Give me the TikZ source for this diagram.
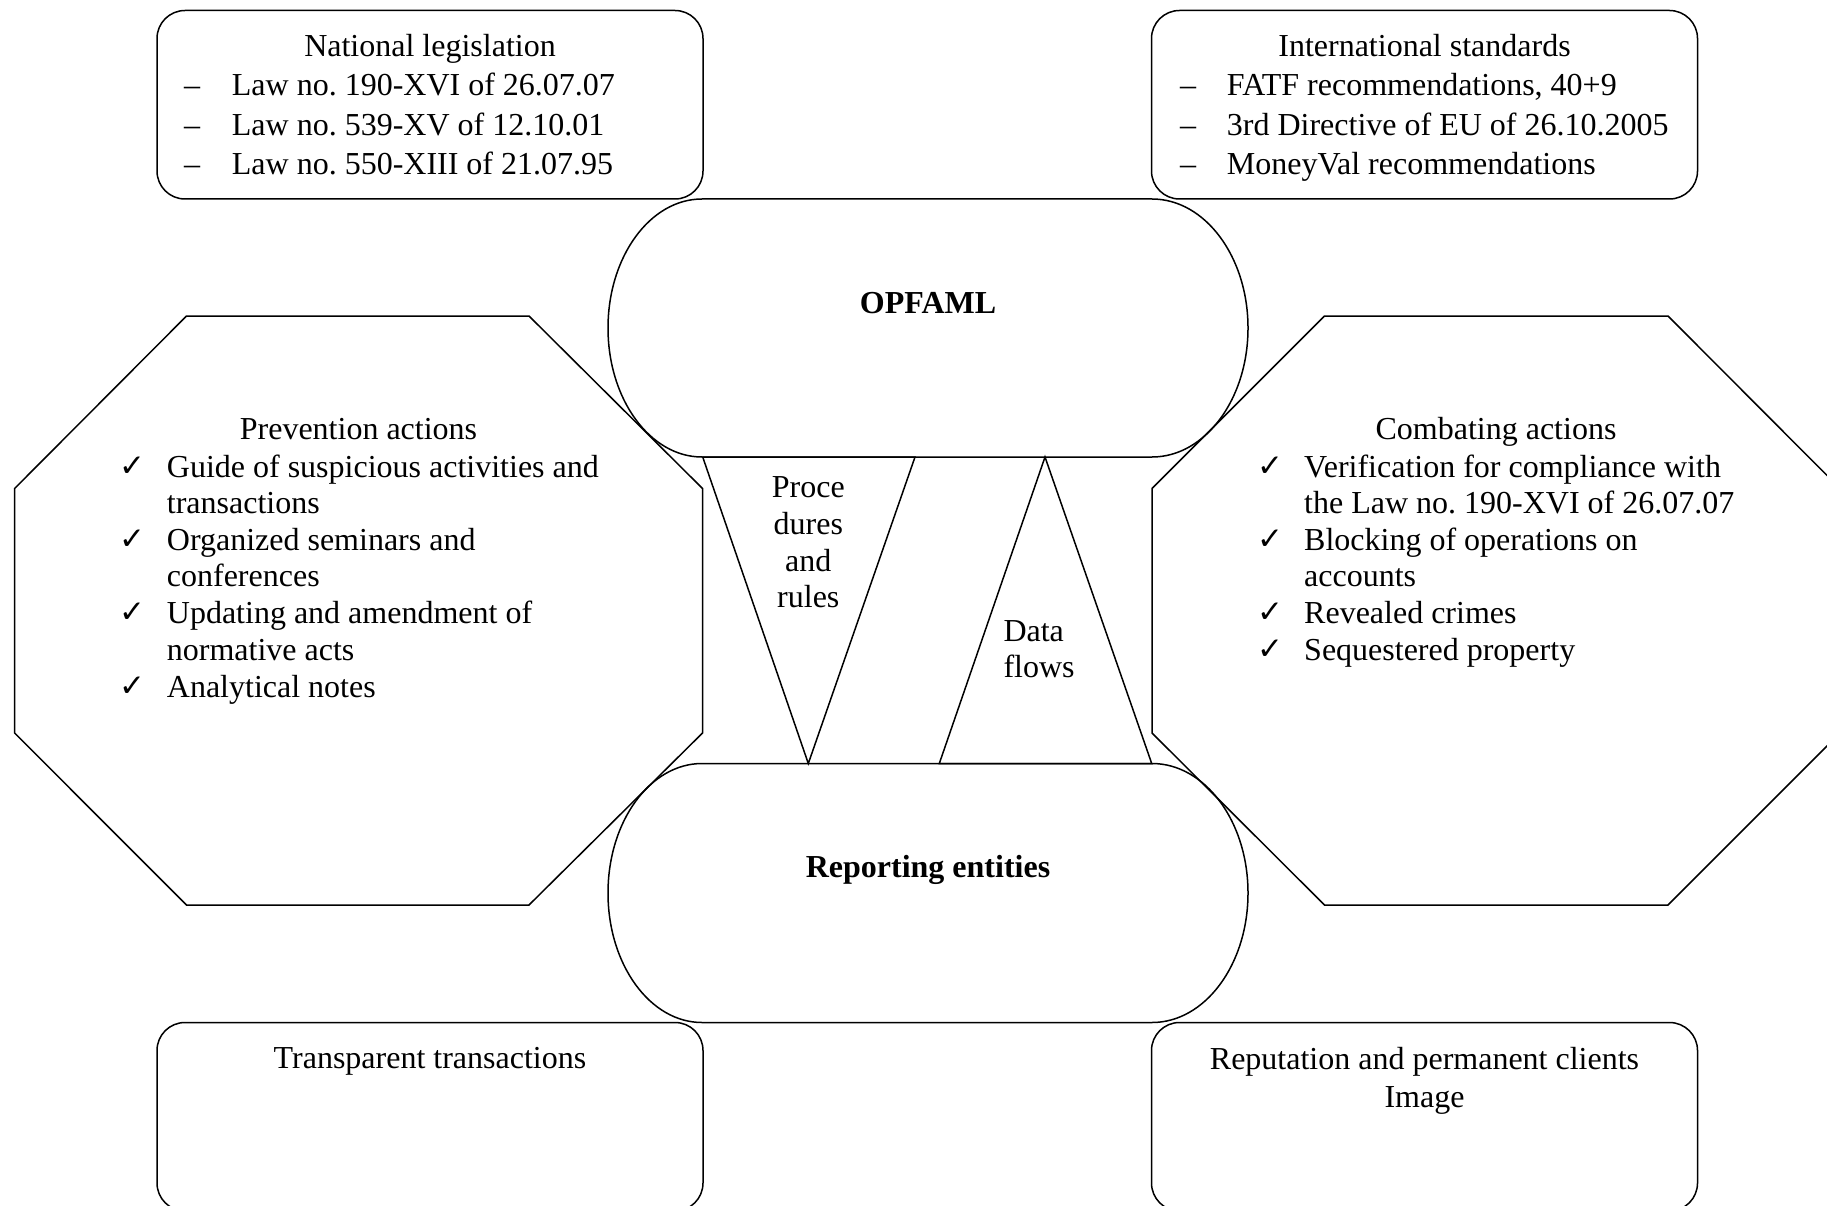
\documentclass[tikz,border=0pt]{standalone}
\usepackage{fontspec}
\setmainfont{Liberation Serif}
\newfontfamily\symfont{DejaVu Sans}
\newcommand\bodysize{\fontsize{32}{37}\selectfont\frenchspacing}
\newcommand\tick{{\symfont\fontsize{31}{31}\selectfont ✓}}

\begin{document}
\begin{tikzpicture}[x=1pt,y=-1pt,
  outline/.style={draw=black,line width=1.5pt,line join=miter},
  card/.style={outline,rounded corners=28pt,minimum width=546pt,minimum height=188.5pt,inner sep=0pt},
  txt/.style={inner sep=0pt,font=\bodysize},
  ln/.style={txt,anchor=base west},
  head/.style={txt,anchor=base},
  tickmark/.style={inner sep=0pt,anchor=base west}]

% page frame
\useasboundingbox (0,0) rectangle (1827,1206);
\clip (0,0) rectangle (1827,1206);
\fill[white] (0,0) rectangle (1827,1206);

% corner cards
\node[card] (natl)  at (430,104.75)  {};
\node[card] (intl)  at (1424.5,104.75) {};
\node[card] (transp) at (430,1116.75) {};
\node[card] (reput)  at (1424.5,1116.75) {};

% central terminators
\draw[outline] (702,199) -- (1152,199)
  arc[start angle=90,end angle=-90,x radius=96pt,y radius=129pt]
  -- (702,457)
  arc[start angle=270,end angle=90,x radius=94pt,y radius=129pt] -- cycle;
\draw[outline] (702,763.5) -- (1152,763.5)
  arc[start angle=90,end angle=-90,x radius=96pt,y radius=129.5pt]
  -- (702,1022.5)
  arc[start angle=270,end angle=90,x radius=94pt,y radius=129.5pt] -- cycle;

% octagons
\draw[outline] (186.5,316) -- (529,316) -- (702.5,488.5) -- (702.5,733)
  -- (529,905) -- (186.5,905) -- (14.6,733) -- (14.6,488.5) -- cycle;
\draw[outline] (1324.5,316) -- (1668,316) -- (1840,488.5) -- (1840,733)
  -- (1668,905) -- (1324.5,905) -- (1152,733) -- (1152,488.5) -- cycle;

% triangles between the terminators
\draw[outline] (702.7,457) -- (915,457) -- (808.3,763.5) -- cycle;
\draw[outline] (1045,457) -- (1151.7,763.5) -- (939.3,763.5) -- cycle;

% National legislation
\node[head] (natlT) at (430,57) {National legislation};
\node[ln] (natlD1) at (184,96)    {–};
\node[ln] (natlD2) at (184,135.5) {–};
\node[ln] (natlD3) at (184,175)   {–};
\node[ln] (natl1) at (231.7,96)    {Law no. 190-XVI of 26.07.07};
\node[ln] (natl2) at (231.7,135.5) {Law no. 539-XV of 12.10.01};
\node[ln] (natl3) at (231.7,175)   {Law no. 550-XIII of 21.07.95};

% International standards
\node[head] (intlT) at (1424.5,57) {International standards};
\node[ln] (intlD1) at (1180,96)    {–};
\node[ln] (intlD2) at (1180,135.5) {–};
\node[ln] (intlD3) at (1180,175)   {–};
\node[ln] (intl1) at (1226.7,96)    {FATF recommendations, 40+9};
\node[ln] (intl2) at (1226.7,135.5) {3rd Directive of EU of 26.10.2005};
\node[ln] (intl3) at (1226.7,175)   {MoneyVal recommendations};

% OPFAML and reporting entities
\node[head,font=\bodysize\bfseries] (opfaml) at (928,313) {OPFAML};
\node[head,font=\bodysize\bfseries] (repent) at (928,877) {Reporting entities};

% Prevention actions
\node[head] (prevT) at (358.5,439.3) {Prevention actions};
\node[tickmark] (prevK1) at (119.5,476) {\tick};
\node[tickmark] (prevK2) at (119.5,549) {\tick};
\node[tickmark] (prevK3) at (119.5,622) {\tick};
\node[tickmark] (prevK4) at (119.5,696) {\tick};
\node[ln] (prev1) at (166.7,477)   {Guide of suspicious activities and};
\node[ln] (prev2) at (166.7,513)   {transactions};
\node[ln] (prev3) at (166.7,550)   {Organized seminars and};
\node[ln] (prev4) at (166.7,586.5) {conferences};
\node[ln] (prev5) at (166.7,623)   {Updating and amendment of};
\node[ln] (prev6) at (166.7,660)   {normative acts};
\node[ln] (prev7) at (166.7,697)   {Analytical notes};

% Combating actions
\node[head] (combT) at (1496,439.3) {Combating actions};
\node[tickmark] (combK1) at (1257,476) {\tick};
\node[tickmark] (combK2) at (1257,549) {\tick};
\node[tickmark] (combK3) at (1257,622) {\tick};
\node[tickmark] (combK4) at (1257,659) {\tick};
\node[ln] (comb1) at (1304,477)   {Verification for compliance with};
\node[ln] (comb2) at (1304,513)   {the Law no. 190-XVI of 26.07.07};
\node[ln] (comb3) at (1304,550)   {Blocking of operations on};
\node[ln] (comb4) at (1304,586.5) {accounts};
\node[ln] (comb5) at (1304,623)   {Revealed crimes};
\node[ln] (comb6) at (1304,660)   {Sequestered property};

% triangle labels
\node[head] (proc1) at (808.3,497.7) {Proce};
\node[head] (proc2) at (808.3,534.3) {dures};
\node[head] (proc3) at (808.3,571)   {and};
\node[head] (proc4) at (808.3,607.7) {rules};
\node[ln] (data1) at (1003.3,641)   {Data};
\node[ln] (data2) at (1003.3,677.7) {flows};

% bottom cards
\node[head] (transpT) at (430,1068.5) {Transparent transactions};
\node[head] (reput1) at (1424.5,1069) {Reputation and permanent clients};
\node[head] (reput2) at (1424.5,1107) {Image};
\end{tikzpicture}
\end{document}
